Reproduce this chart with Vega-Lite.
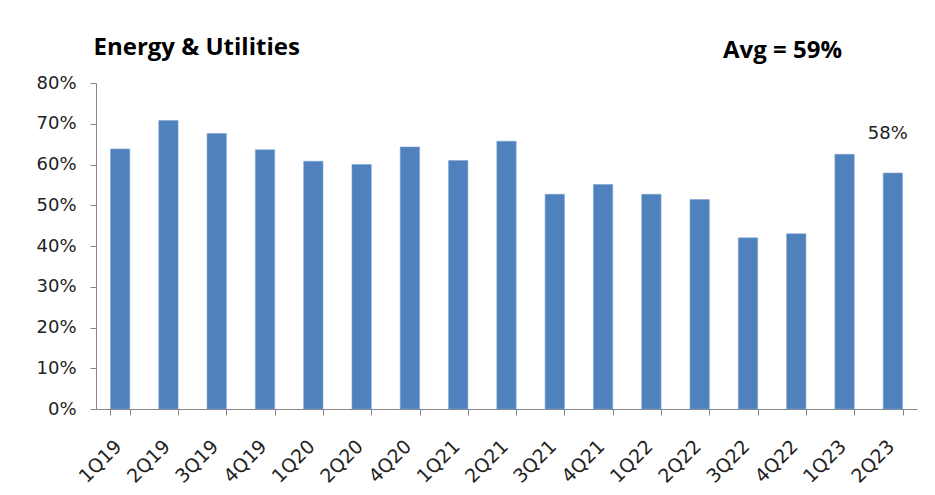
{
  "$schema": "https://vega.github.io/schema/vega-lite/v6.json",
  "autosize": "none",
  "width": 821,
  "height": 326,
  "padding": {"left": 96, "top": 83, "right": 18, "bottom": 86},
  "background": "white",
  "config": {"view": {"stroke": null}},
  "title": {
    "text": "Avg = 59%",
    "anchor": "end",
    "frame": "group",
    "dx": -75,
    "dy": 44,
    "offset": 16,
    "font": "Open Sans",
    "fontSize": 24,
    "fontWeight": "bold",
    "color": "#000000"
  },
  "data": {
    "values": [
      {"q": "1Q19", "v": 0.638},
      {"q": "2Q19", "v": 0.708},
      {"q": "3Q19", "v": 0.676},
      {"q": "4Q19", "v": 0.636},
      {"q": "1Q20", "v": 0.608},
      {"q": "2Q20", "v": 0.600},
      {"q": "4Q20", "v": 0.643},
      {"q": "1Q21", "v": 0.610},
      {"q": "2Q21", "v": 0.657},
      {"q": "3Q21", "v": 0.527},
      {"q": "4Q21", "v": 0.551},
      {"q": "1Q22", "v": 0.527},
      {"q": "2Q22", "v": 0.514},
      {"q": "3Q22", "v": 0.420},
      {"q": "4Q22", "v": 0.430},
      {"q": "1Q23", "v": 0.625},
      {"q": "2Q23", "v": 0.579, "lab": "58%"}
    ]
  },
  "encoding": {
    "x": {
      "field": "q",
      "type": "nominal",
      "sort": null,
      "scale": {"paddingInner": 0.6, "paddingOuter": 0.3},
      "axis": {
        "title": null,
        "labelAngle": -45,
        "labelAlign": "right",
        "labelBaseline": "middle",
        "labelFont": "DejaVu Sans",
        "labelFontSize": 19,
        "labelColor": "#222222",
        "labelPadding": 28,
        "labelOffset": -2,
        "tickBand": "extent",
        "tickSize": 6,
        "tickColor": "#868686",
        "domainColor": "#868686",
        "grid": false
      }
    },
    "y": {
      "field": "v",
      "type": "quantitative",
      "scale": {"domain": [0, 0.8]},
      "axis": {
        "format": ".0%",
        "values": [0, 0.1, 0.2, 0.3, 0.4, 0.5, 0.6, 0.7, 0.8],
        "grid": false,
        "title": "Energy & Utilities",
        "titleAngle": 0,
        "titleAlign": "left",
        "titleBaseline": "middle",
        "titleX": -3,
        "titleY": -36,
        "titleFont": "Open Sans",
        "titleFontSize": 24,
        "titleFontWeight": "bold",
        "titleColor": "#000000",
        "labelFont": "DejaVu Sans",
        "labelFontSize": 18,
        "labelColor": "#222222",
        "labelPadding": 14,
        "tickSize": 6,
        "tickColor": "#868686",
        "domainColor": "#868686"
      }
    }
  },
  "layer": [
    {
      "mark": {"type": "bar", "color": "#4F81BD", "stroke": "#7EA3D0", "strokeWidth": 0.6}
    },
    {
      "transform": [{"filter": "isValid(datum.lab)"}],
      "mark": {"type": "text", "baseline": "bottom", "dy": -30, "dx": -5, "font": "DejaVu Sans", "fontSize": 18, "color": "#222222"},
      "encoding": {"text": {"field": "lab"}}
    }
  ]
}
